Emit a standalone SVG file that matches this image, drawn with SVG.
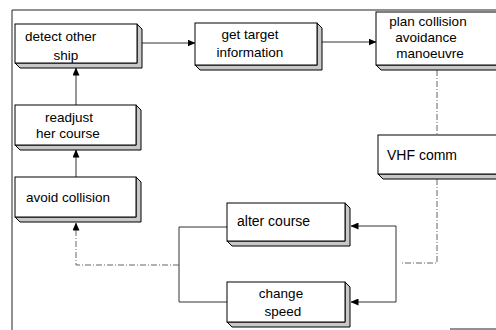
<svg xmlns="http://www.w3.org/2000/svg" width="496" height="330" viewBox="0 0 496 330">
<defs>
<marker id="ah" markerWidth="8" markerHeight="7" refX="7.5" refY="3.5" orient="auto" markerUnits="userSpaceOnUse">
<path d="M0,0 L8,3.5 L0,7 Z" fill="#000"/>
</marker>
</defs>
<style>
.face{fill:#fff;stroke:#000;stroke-width:1}
.ext{fill:#c8c8c8;stroke:#000;stroke-width:1;stroke-linejoin:round}
.t{font-family:"Liberation Sans",Arial,sans-serif;font-size:13.5px;fill:#000}
.c{fill:none;stroke:#333;stroke-width:1}
.d{fill:none;stroke:#666;stroke-width:1;stroke-dasharray:6 2 1 2}
.frame{fill:none;stroke:#222;stroke-width:1}
</style>
<rect width="496" height="330" fill="#fff"/>
<g id="frame">
<path class="frame" d="M12,330 L12,10 L496,10"/>
<path class="frame" d="M450,329 L496,329"/>
</g>
<g id="connectors">
<line class="c" x1="141" y1="43" x2="195" y2="43" marker-end="url(#ah)"/>
<line class="c" x1="322" y1="42" x2="376" y2="42" marker-end="url(#ah)"/>
<line class="c" x1="76" y1="105" x2="76" y2="68" marker-end="url(#ah)"/>
<line class="c" x1="76" y1="177" x2="76" y2="150" marker-end="url(#ah)"/>
<line class="d" x1="437" y1="70" x2="437" y2="135"/>
<path class="d" d="M437,179 L437,263 L400,263"/>
<path class="c" d="M396,226 L396,302"/>
<line class="c" x1="396" y1="226" x2="351" y2="226" marker-end="url(#ah)"/>
<line class="c" x1="396" y1="302" x2="351" y2="302" marker-end="url(#ah)"/>
<path class="c" d="M227,227 L179,227 L179,302 L227,302"/>
<path class="d" d="M179,265 L76,265 L76,223" marker-end="url(#ah)"/>
</g>
<g id="detect">
<polygon class="ext" points="137,24 142,29 142,68 20,68 15,63 137,63"/>
<rect class="face" x="15" y="24" width="122" height="39"/>
<text class="t" x="25" y="41">detect other</text>
<text class="t" x="66" y="60" text-anchor="middle">ship</text>
</g>
<g id="get">
<polygon class="ext" points="317,23 322,28 322,70 200,70 195,65 317,65"/>
<rect class="face" x="195" y="23" width="122" height="42"/>
<text class="t" x="250" y="39" text-anchor="middle">get  target</text>
<text class="t" x="250" y="57" text-anchor="middle">information</text>
</g>
<g id="plan">
<polygon class="ext" points="506,12 511,17 511,70 381,70 376,65 506,65"/>
<rect class="face" x="376" y="12" width="130" height="53"/>
<text class="t" x="428" y="26" text-anchor="middle">plan collision</text>
<text class="t" x="426" y="42" text-anchor="middle">avoidance</text>
<text class="t" x="430" y="58" text-anchor="middle">manoeuvre</text>
</g>
<g id="readjust">
<polygon class="ext" points="136,105 141,110 141,150 20,150 15,145 136,145"/>
<rect class="face" x="15" y="105" width="121" height="40"/>
<text class="t" x="69" y="122" text-anchor="middle">readjust</text>
<text class="t" x="68" y="138" text-anchor="middle">her  course</text>
</g>
<g id="avoid">
<polygon class="ext" points="136,177 141,182 141,222 20,222 15,217 136,217"/>
<rect class="face" x="15" y="177" width="121" height="40"/>
<text class="t" x="26" y="202">avoid collision</text>
</g>
<g id="vhf">
<polygon class="ext" points="508,135 513,140 513,179 383,179 378,174 508,174"/>
<rect class="face" x="378" y="135" width="130" height="39"/>
<text class="t" x="387" y="160" style="font-size:14px">VHF comm</text>
</g>
<g id="alter">
<polygon class="ext" points="345,203 350,208 350,246 232,246 227,241 345,241"/>
<rect class="face" x="227" y="203" width="118" height="38"/>
<text class="t" x="237" y="226" style="font-size:14px">alter course</text>
</g>
<g id="change">
<polygon class="ext" points="345,282 350,287 350,327 232,327 227,322 345,322"/>
<rect class="face" x="227" y="282" width="118" height="40"/>
<text class="t" x="281" y="298" text-anchor="middle">change</text>
<text class="t" x="283" y="316" text-anchor="middle">speed</text>
</g>
</svg>
